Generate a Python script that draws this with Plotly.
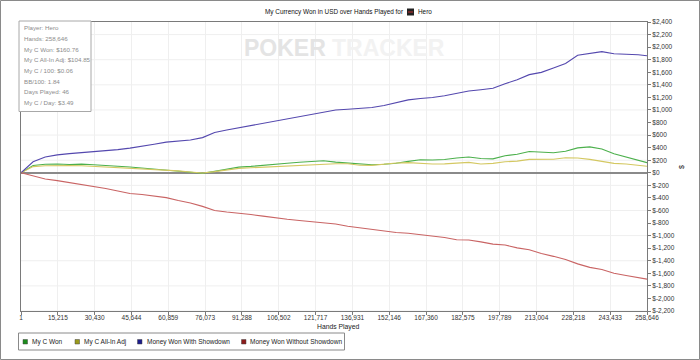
import plotly.graph_objects as go

# ---------------- data ----------------
hands = [1, 5000, 10000, 15000, 20000, 25000, 30000, 35000, 40000, 45000, 50000,
         55000, 60000, 65000, 70000, 75000, 80000, 85000, 90000, 95000, 100000,
         105000, 110000, 115000, 120000, 125000, 130000, 135000, 140000, 145000, 150000,
         155000, 160000, 165000, 170000, 175000, 180000, 185000, 190000, 195000, 200000,
         205000, 210000, 215000, 220000, 225000, 230000, 235000, 240000, 245000, 250000,
         255000, 258646]

my_c_won = [0, 115, 135, 140, 132, 138, 128, 122, 105, 92, 75,
            64, 50, 32, 15, -8, 22, 62, 90, 102, 122,
            138, 152, 168, 185, 192, 170, 158, 140, 128, 136,
            152, 182, 208, 204, 212, 236, 252, 228, 222, 272,
            296, 338, 328, 318, 342, 396, 412, 378, 302, 252,
            196, 161]

my_c_allin_adj = [0, 98, 112, 118, 116, 112, 102, 98, 88, 80, 70,
                  58, 48, 30, 12, -3, 18, 44, 70, 80, 90,
                  102, 110, 118, 130, 140, 143, 143, 120, 118, 140,
                  155, 162, 146, 140, 142, 160, 166, 140, 150, 176,
                  186, 214, 218, 216, 240, 236, 214, 180, 150, 140,
                  120, 105]

won_with_sd = [0, 175, 250, 285, 305, 318, 342, 352, 368, 392, 420,
               455, 488, 502, 522, 560, 640, 680, 716, 752, 790,
               818, 856, 888, 925, 962, 1000, 1012, 1022, 1040, 1072,
               1118, 1160, 1182, 1198, 1226, 1258, 1302, 1322, 1345, 1418,
               1482, 1562, 1598, 1668, 1740, 1870, 1905, 1928, 1895, 1890,
               1878, 1862]

won_without_sd = [0, -55, -100, -125, -155, -180, -210, -250, -290, -330, -345,
                  -365, -395, -440, -480, -535, -600, -625, -640, -665, -690,
                  -720, -740, -760, -780, -800, -815, -850, -875, -910, -935,
                  -950, -962, -985, -1005, -1030, -1065, -1070, -1100, -1135, -1150,
                  -1195, -1225, -1285, -1330, -1380, -1450, -1505, -1540, -1600, -1635,
                  -1665, -1693]

series_names = ["My C Won", "My C All-In Adj", "Money Won With Showdown", "Money Won Without Showdown"]
line_colors = ["#4cb04c", "#d4c862", "#5448ae", "#c96464"]
legend_colors = ["#1c8c1c", "#9a9a1c", "#1c1c8c", "#8c1c1c"]

x_tick_vals = [1, 15215, 30430, 45644, 60859, 76073, 91288, 106502, 121717, 136931,
               152146, 167360, 182575, 197789, 213004, 228218, 243433, 258646]
x_tick_text = ["1", "15,215", "30,430", "45,644", "60,859", "76,073", "91,288", "106,502",
               "121,717", "136,931", "152,146", "167,360", "182,575", "197,789", "213,004",
               "228,218", "243,433", "258,646"]

y_tick_vals = list(range(-2200, 2401, 200))
y_tick_text = [("$" + f"{v:,}") for v in y_tick_vals]
y_grid_vals = [2200, 1800, 1400, 1000, 600, 200, -200, -600, -1000, -1400, -1800, -2200]

info_lines = ["Player: Hero", "Hands: 258,646", "My C Won: $160.76", "My C All-In Adj: $104.85",
              "My C / 100: $0.06", "BB/100: 1.84", "Days Played: 46", "My C / Day: $3.49"]

# ---------------- layout helpers ----------------
W, H = 700, 360
L, R, T, B = 21, 647, 22, 311


def px(xp):
    return (xp - L) / (R - L)


def py(yp):
    return (B - yp) / (B - T)


FONT = "Liberation Sans, Arial, sans-serif"
NARROW = "Liberation Sans Narrow, Arial Narrow, sans-serif"

fig = go.Figure()
series = [my_c_won, my_c_allin_adj, won_with_sd, won_without_sd]
for name, vals, col in zip(series_names, series, line_colors):
    fig.add_trace(go.Scatter(x=hands, y=vals, mode="lines", name=name,
                             line=dict(color=col, width=1.1), showlegend=False))

shapes = []
annotations = []

# horizontal grid lines
for gv in y_grid_vals:
    shapes.append(dict(type="line", xref="paper", yref="y", x0=0, x1=1, y0=gv, y1=gv,
                       line=dict(color="#efefef", width=1), layer="below"))

# outer border of the image
shapes.append(dict(type="rect", xref="paper", yref="paper", x0=px(0.5), x1=px(699.5),
                   y0=py(359.5), y1=py(0.5), line=dict(color="#8a8a8a", width=1)))

# watermark
annotations.append(dict(text="<b>POKER</b>", x=px(328), y=py(48), xref="paper", yref="paper",
                        xanchor="right", yanchor="middle", showarrow=False,
                        font=dict(family=NARROW, size=23, color="#e4e4e4")))
annotations.append(dict(text="<b>TRACKER</b>", x=px(330), y=py(48), xref="paper", yref="paper",
                        xanchor="left", yanchor="middle", showarrow=False,
                        font=dict(family=NARROW, size=23, color="#f2f2f2")))

# title
annotations.append(dict(text="My Currency Won in USD over Hands Played for", x=px(406), y=py(12),
                        xref="paper", yref="paper", xanchor="right", yanchor="middle",
                        showarrow=False, font=dict(family=FONT, size=6.4, color="#111")))
annotations.append(dict(text="Hero", x=px(416), y=py(12), xref="paper", yref="paper",
                        xanchor="left", yanchor="middle", showarrow=False,
                        font=dict(family=FONT, size=6.4, color="#111")))
shapes.append(dict(type="rect", xref="paper", yref="paper", x0=px(407), x1=px(414),
                   y0=py(15.5), y1=py(8.5), fillcolor="#222", line=dict(width=0)))
shapes.append(dict(type="line", xref="paper", yref="paper", x0=px(408), x1=px(413),
                   y0=py(12), y1=py(12), line=dict(color="#c03030", width=1)))

# info box
shapes.append(dict(type="rect", xref="paper", yref="paper", x0=px(19), x1=px(91),
                   y0=py(111.5), y1=py(21), fillcolor="white",
                   line=dict(color="#a8a8a8", width=1), layer="above"))
for i, t in enumerate(info_lines):
    annotations.append(dict(text=t, x=px(21.5), y=py(27.7 + 10.7 * i), xref="paper", yref="paper",
                            xanchor="left", yanchor="middle", showarrow=False,
                            font=dict(family=FONT, size=6.2, color="#8c8c8c")))

# axis titles
annotations.append(dict(text="Hands Played", x=px(338), y=py(327), xref="paper", yref="paper",
                        xanchor="center", yanchor="middle", showarrow=False,
                        font=dict(family=FONT, size=6.8, color="#222")))
annotations.append(dict(text="$", x=px(681), y=py(167), xref="paper", yref="paper",
                        xanchor="center", yanchor="middle", showarrow=False, textangle=-90,
                        font=dict(family=FONT, size=7, color="#222")))

# legend box
shapes.append(dict(type="rect", xref="paper", yref="paper", x0=px(18.5), x1=px(344.5),
                   y0=py(350), y1=py(333), line=dict(color="#8a8a8a", width=1)))
sq_left = [23, 75, 137.5, 241.5]
txt_left = [30, 82, 144.5, 248]
for name, col, sx, tx in zip(series_names, legend_colors, sq_left, txt_left):
    shapes.append(dict(type="rect", xref="paper", yref="paper", x0=px(sx), x1=px(sx + 4.5),
                       y0=py(344), y1=py(339.5), fillcolor=col, line=dict(color="#444", width=0.5)))
    annotations.append(dict(text=name, x=px(tx), y=py(341.7), xref="paper", yref="paper",
                            xanchor="left", yanchor="middle", showarrow=False,
                            font=dict(family=FONT, size=6.5, color="#222")))

fig.update_layout(
    width=W, height=H,
    margin=dict(l=L, r=W - R, t=T, b=H - B, pad=0),
    paper_bgcolor="white", plot_bgcolor="white",
    showlegend=False,
    shapes=shapes, annotations=annotations,
    font=dict(family=FONT, size=6.5, color="#333"),
    xaxis=dict(range=[1, 258646], tickvals=x_tick_vals, ticktext=x_tick_text,
               showgrid=True, gridcolor="#efefef", gridwidth=1,
               showline=True, linecolor="#7a7a7a", linewidth=1, mirror=True,
               ticks="outside", ticklen=3, tickcolor="#7a7a7a", ticklabelstandoff=-3,
               tickfont=dict(family=FONT, size=6.5, color="#333"), zeroline=False,
               fixedrange=True),
    yaxis=dict(range=[-2200, 2400], tickvals=y_tick_vals, ticktext=y_tick_text, side="right",
               showgrid=False, showline=True, linecolor="#7a7a7a", linewidth=1, mirror=True,
               ticks="outside", ticklen=3, tickcolor="#7a7a7a",
               tickfont=dict(family=FONT, size=6.5, color="#333"),
               zeroline=True, zerolinecolor="#8a8a8a", zerolinewidth=1.5,
               fixedrange=True),
)

fig.write_html("out.html", config={"displayModeBar": False},
               post_script="document.body.style.margin='0px';document.body.style.overflow='hidden';")
